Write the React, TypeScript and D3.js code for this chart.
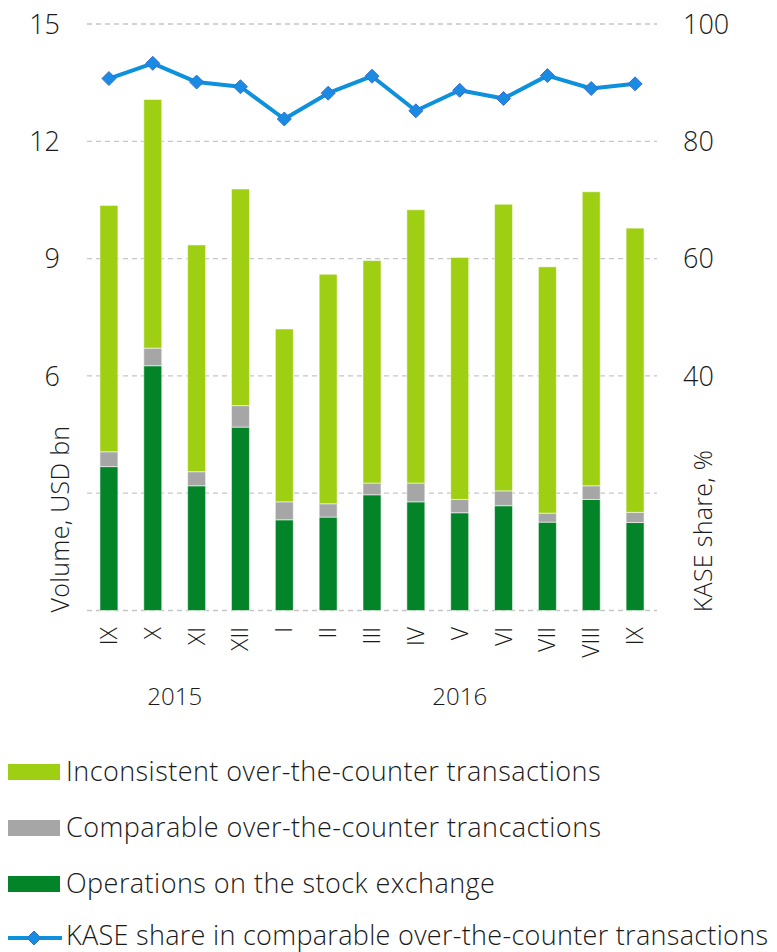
import React, { useEffect } from 'react';
import * as d3 from 'd3';

// months Sep 2015 – Sep 2016
const months = ['IX', 'X', 'XI', 'XII', 'I', 'II', 'III', 'IV', 'V', 'VI', 'VII', 'VIII', 'IX'];
const years = [
  { label: '2015', from: 1, to: 2 },
  { label: '2016', from: 8, to: 8 },
];

// USD bn
const exchange = [3.68, 6.26, 3.19, 4.69, 2.32, 2.39, 2.96, 2.78, 2.50, 2.68, 2.26, 2.84, 2.25];
const comparable = [0.38, 0.45, 0.36, 0.55, 0.46, 0.34, 0.30, 0.48, 0.34, 0.38, 0.23, 0.35, 0.26];
const inconsistent = [6.30, 6.36, 5.80, 5.54, 4.42, 5.87, 5.69, 6.99, 6.19, 7.33, 6.30, 7.52, 7.27];
// %
const kaseShare = [90.7, 93.3, 90.1, 89.3, 83.8, 88.2, 91.1, 85.2, 88.7, 87.3, 91.2, 89.0, 89.8];

const leftTicks = [6, 9, 12, 15];
const rightTicks = [40, 60, 80, 100];
const gridTicks = [0, 3, 6, 9, 12, 15];

const legendItems = [
  { key: 'inconsistent', label: 'Inconsistent over-the-counter transactions', color: '#9fcf13' },
  { key: 'comparable', label: 'Comparable over-the-counter trancactions', color: '#a6a6a6' },
  { key: 'exchange', label: 'Operations on the stock exchange', color: '#048428' },
];

const W = 777;
const H = 952;
const FONT = '"Open Sans", Lato, sans-serif';
const LINE_COLOR = '#0e91dc';

export default function App() {
  useEffect(() => {
    document.body.style.margin = '0';
  }, []);

  const x = d3.scaleBand<number>()
    .domain(d3.range(months.length))
    .range([87, 657])
    .paddingInner(0.59)
    .paddingOuter(0.295);
  const yL = d3.scaleLinear().domain([0, 15]).range([610.5, 24]);
  const yR = d3.scaleLinear().domain([0, 100]).range([610.5, 24]);

  const rows = months.map((m, i) => ({
    i,
    exchange: exchange[i],
    comparable: comparable[i],
    inconsistent: inconsistent[i],
  }));
  const stack = d3.stack<any>().keys(['exchange', 'comparable', 'inconsistent'])(rows);
  const colorOf: Record<string, string> = {
    inconsistent: '#9fcf13',
    comparable: '#a6a6a6',
    exchange: '#048428',
  };

  const cx = (i: number) => (x(i) || 0) + x.bandwidth() / 2;
  const line = d3.line<number>()
    .x((_, i) => cx(i))
    .y(d => yR(d));

  const diamond = (px: number, py: number, r: number) =>
    `M${px},${py - r}L${px + r},${py}L${px},${py + r}L${px - r},${py}Z`;

  return (
    <svg width={W} height={H} style={{ display: 'block', background: '#fff' }} fontFamily={FONT}>
      {/* grid */}
      {gridTicks.map(t => (
        <line key={t} x1={87} x2={657} y1={yL(t)} y2={yL(t)}
          stroke="#c6c6c6" strokeWidth={1.3} strokeDasharray="5,4" />
      ))}

      {/* stacked bars */}
      {stack.map(s => (
        <g key={s.key} fill={colorOf[s.key]}>
          {s.map((d, i) => (
            <rect key={i} x={x(i)} width={x.bandwidth()}
              y={yL(d[1])} height={yL(d[0]) - yL(d[1])}
              stroke="#ffffff" strokeOpacity={0.55} strokeWidth={1} />
          ))}
        </g>
      ))}

      {/* KASE share line */}
      <path d={line(kaseShare) || ''} fill="none" stroke={LINE_COLOR} strokeWidth={4} strokeLinejoin="round" />
      {kaseShare.map((v, i) => (
        <path key={i} d={diamond(cx(i), yR(v), 7)} fill="#1a8be2" stroke="#3a6fd2" strokeWidth={1} />
      ))}

      {/* left axis */}
      {leftTicks.map(t => (
        <text key={t} x={60} y={yL(t)} dy="0.36em" textAnchor="end" fontSize={27}
          fontWeight={300} fill="#1a1a1a">{t}</text>
      ))}
      <text transform={`translate(69,519) rotate(-90)`} textAnchor="middle" fontSize={25}
        fontWeight={300} fill="#1a1a1a" letterSpacing={0.3}>Volume, USD bn</text>

      {/* right axis */}
      {rightTicks.map(t => (
        <text key={t} x={683} y={yR(t)} dy="0.36em" textAnchor="start" fontSize={27}
          fontWeight={300} fill="#1a1a1a">{t}</text>
      ))}
      <text transform={`translate(712,531) rotate(-90)`} textAnchor="middle" fontSize={25}
        fontWeight={300} fill="#1a1a1a" letterSpacing={0.3}>KASE share, %</text>

      {/* month labels */}
      {months.map((m, i) => (
        <text key={i} transform={`translate(${cx(i) + 8},627) rotate(-90)`} textAnchor="end"
          fontSize={23} fontWeight={300} fill="#1a1a1a">{m}</text>
      ))}
      {years.map(yr => (
        <text key={yr.label} x={(cx(yr.from) + cx(yr.to)) / 2} y={705} textAnchor="middle"
          fontSize={24} fontWeight={300} fill="#1a1a1a">{yr.label}</text>
      ))}

      {/* legend */}
      {legendItems.map((it, k) => (
        <g key={it.key} transform={`translate(0,${772 + k * 56})`}>
          <rect x={8} y={-8} width={52} height={16} fill={it.color} />
          <text x={66} y={9} fontSize={27} fontWeight={300} letterSpacing={0.45}
            fill="#1a1a1a">{it.label}</text>
        </g>
      ))}
      <g transform={`translate(0,938)`}>
        <line x1={8} x2={62} y1={0} y2={0} stroke={LINE_COLOR} strokeWidth={4} />
        <path d={diamond(34, 0, 7)} fill="#1a8be2" stroke="#3a6fd2" strokeWidth={1} />
        <text x={66} y={7} fontSize={27} fontWeight={300} letterSpacing={0.3} fill="#1a1a1a">
          KASE share in comparable over-the-counter transactions
        </text>
      </g>
    </svg>
  );
}
